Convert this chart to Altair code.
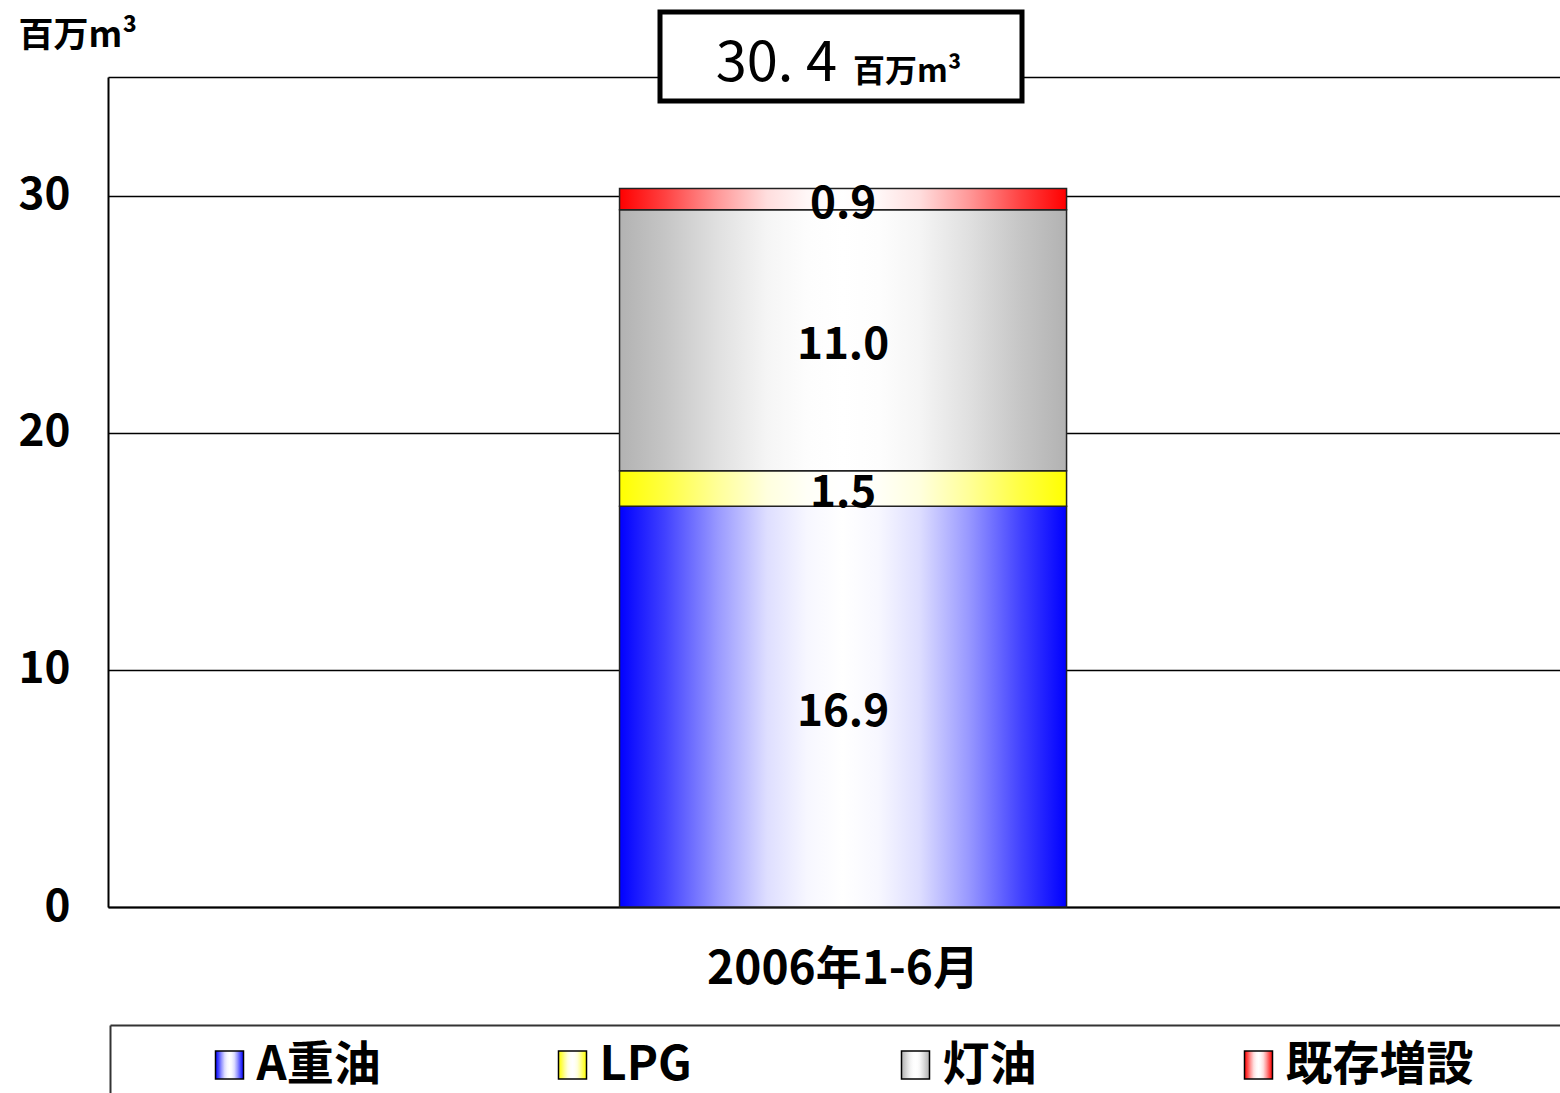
import altair as alt
import pandas as pd

# ---- data -------------------------------------------------------------
periods = ["2006年1-6月"]
fuels = ["A重油", "LPG", "灯油", "既存増設"]
volumes = [16.9, 1.5, 11.0, 0.9]          # 百万m³
total_volume = [30.4]                      # stated total shown in the header box
edge_colors = ["#0000FF", "#FFFF00", "#B2B2B2", "#FF0000"]
y_ticks = [0, 10, 20, 30, 35]
y_max = 35

FONT = "Noto Sans CJK JP"

df = pd.DataFrame({
    "period": periods * len(fuels),
    "fuel": fuels,
    "volume": volumes,
    "order": list(range(len(fuels))),
})
legend_df = pd.DataFrame({"fuel": fuels})
total_df = pd.DataFrame({"total": total_volume})
anchor_df = pd.DataFrame({"a": [0]})


def mix_white(hex_color, w):
    r, g, b = (int(hex_color[i:i + 2], 16) for i in (1, 3, 5))
    r, g, b = (round(c + (255 - c) * w) for c in (r, g, b))
    return f"#{r:02X}{g:02X}{b:02X}"


# horizontal "tube" shading: saturated edges, white centre
SHADE = [(0.0, 0.0), (0.1, 0.25), (0.22, 0.6), (0.33, 0.87), (0.42, 0.97), (0.5, 1.0)]


def gradient(edge):
    stops = []
    for off, w in SHADE:
        stops.append(alt.GradientStop(offset=off, color=mix_white(edge, w)))
    for off, w in reversed(SHADE[:-1]):
        stops.append(alt.GradientStop(offset=1 - off, color=mix_white(edge, w)))
    return alt.Gradient(gradient="linear", x1=0, x2=1, y1=0, y2=0, stops=stops)


# ---- stacked bar ------------------------------------------------------
x_enc = alt.X(
    "period:N",
    scale=alt.Scale(paddingInner=0.1104, paddingOuter=1, align=0.509),
    axis=alt.Axis(
        title=None, labelAngle=0, ticks=False, labelPadding=40, labelLimit=0,
        labelFont=FONT, labelFontSize=46, labelFontWeight="bold", labelColor="black",
        domain=True, domainColor="black", domainWidth=2,
    ),
)
y_enc = alt.Y(
    "y0:Q",
    scale=alt.Scale(domain=[0, y_max], nice=False),
    axis=alt.Axis(
        values=y_ticks,
        labelExpr="datum.value == 35 ? '' : datum.label",
        grid=True, gridColor="black", gridWidth=1.5,
        ticks=False, domain=True, domainColor="black", domainWidth=2,
        labelFont=FONT, labelFontSize=44, labelFontWeight="bold", labelColor="black",
        labelPadding=38,
        title="百万m³", titleAngle=0, titleX=-90, titleY=-59,
        titleAlign="left", titleBaseline="top",
        titleFont=FONT, titleFontSize=35, titleFontWeight="bold", titleColor="black",
    ),
)

stacked = alt.Chart(df).transform_stack(
    stack="volume", as_=["y0", "y1"], groupby=["period"],
    sort=[alt.SortField("order", order="ascending")],
).transform_calculate(mid="(datum.y0 + datum.y1) / 2")

bar_layers = []
for fuel, edge in zip(fuels, edge_colors):
    bar_layers.append(
        stacked.transform_filter(alt.datum.fuel == fuel)
        .mark_bar(fill=gradient(edge), stroke="#222222", strokeWidth=1.5)
        .encode(x=x_enc, y=y_enc, y2="y1:Q")
    )

value_labels = stacked.mark_text(
    font=FONT, fontSize=44, fontWeight="bold", color="black", baseline="middle", dy=6
).encode(
    x=alt.X("period:N"),
    y=alt.Y("mid:Q"),
    text=alt.Text("volume:Q", format=".1f"),
)

main = alt.layer(*bar_layers, value_labels)

# ---- header box with the total ---------------------------------------
header_box = alt.Chart(anchor_df).mark_rect(
    fill="white", stroke="black", strokeWidth=5
).encode(x=alt.value(552), x2=alt.value(914), y=alt.value(-65), y2=alt.value(24))

header_num = alt.Chart(total_df).transform_calculate(
    label="replace(format(datum.total, '.1f'), '.', '. ')"
).mark_text(
    font=FONT, fontSize=56, fontWeight="normal", color="black",
    align="right", baseline="alphabetic",
).encode(x=alt.value(729), y=alt.value(4), text="label:N")

header_unit = alt.Chart(anchor_df).mark_text(
    font=FONT, fontSize=32, fontWeight="bold", color="black",
    align="left", baseline="alphabetic",
).encode(x=alt.value(745), y=alt.value(5), text=alt.value("百万m³"))

# ---- legend -----------------------------------------------------------
legend_x = alt.X(
    "fuel:N", sort=fuels,
    scale=alt.Scale(range=[-50, 1322], paddingInner=0, paddingOuter=0),
    axis=None,
)
swatches = []
for fuel, edge in zip(fuels, edge_colors):
    swatches.append(
        alt.Chart(legend_df).transform_filter(alt.datum.fuel == fuel)
        .mark_bar(size=28, fill=gradient(edge), stroke="black", strokeWidth=1.5)
        .encode(x=legend_x, y=alt.value(974), y2=alt.value(1002))
    )
legend_text = alt.Chart(legend_df).mark_text(
    font=FONT, fontSize=47, fontWeight="bold", color="black",
    align="left", baseline="middle", dx=27,
).encode(x=legend_x, y=alt.value(989), text="fuel:N")

legend_top = alt.Chart(anchor_df).mark_rule(color="#333333", strokeWidth=2).encode(
    x=alt.value(2.5), x2=alt.value(1460), y=alt.value(948.5)
)
legend_left = alt.Chart(anchor_df).mark_rule(color="#333333", strokeWidth=2).encode(
    x=alt.value(2.5), y=alt.value(948.5), y2=alt.value(1200)
)

legend = alt.layer(legend_top, legend_left, *swatches, legend_text)

chart = (
    alt.layer(main, header_box, header_num, header_unit, legend)
    .resolve_scale(x="independent")
    .properties(
        width=1452, height=830,
        autosize=alt.AutoSizeParams(type="none"),
        padding={"left": 108, "top": 77, "right": 0, "bottom": 186},
        background="white",
    )
    .configure_view(stroke=None)
)

chart.save("out.html", embed_options={"renderer": "svg", "actions": False})
